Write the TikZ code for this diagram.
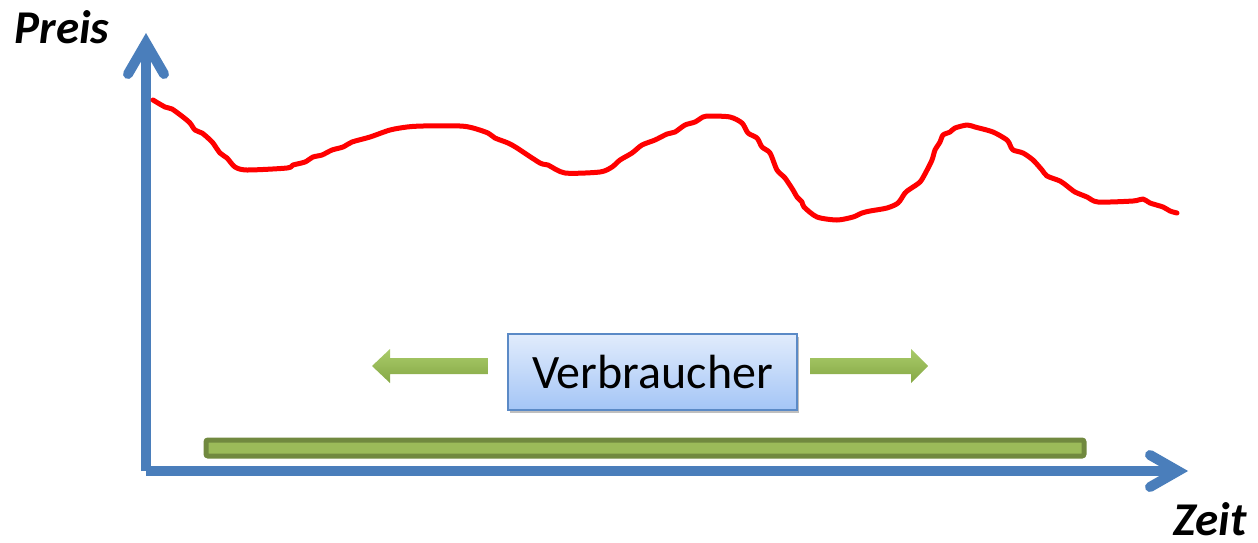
\documentclass[tikz,border=0pt]{standalone}
\usepackage{fontspec}
\setmainfont{Carlito}
\usetikzlibrary{shadows}
\definecolor{axisblue}{HTML}{4A7EBB}
\definecolor{barfill}{HTML}{9BBB59}
\definecolor{bardraw}{HTML}{71893F}
\definecolor{boxtop}{HTML}{E1ECFC}
\definecolor{boxbottom}{HTML}{A4C5F6}
\definecolor{boxdraw}{HTML}{5B8AC6}
\definecolor{arrowtop}{HTML}{A9CB6A}
\definecolor{arrowbottom}{HTML}{86A845}
\tikzset{
  axisline/.style={draw=axisblue, line width=10pt, line cap=butt},
  axishead/.style={draw=axisblue, line width=10pt, line cap=round, line join=miter},
  axislabel/.style={font=\fontsize{47}{50}\selectfont\bfseries\itshape, inner sep=0pt, anchor=base},
  pricecurve/.style={draw=red, line width=5pt, line cap=round, line join=round},
  consumerbox/.style={draw=boxdraw, line width=1.2pt, top color=boxtop, bottom color=boxbottom,
    minimum width=289pt, minimum height=76pt, inner sep=0pt,
    font=\fontsize{48}{50}\selectfont,
    drop shadow={shadow xshift=1.5pt, shadow yshift=-3pt, opacity=0.25, fill=black}},
  greenarrow/.style={top color=arrowtop, bottom color=arrowbottom, draw=none},
  greenbar/.style={fill=barfill, draw=bardraw, line width=5pt, rounded corners=2pt},
}
\begin{document}
\begin{tikzpicture}[x=1pt, y=-1pt]
\useasboundingbox (0,0) rectangle (1258,542);

% axes
\coordinate (O) at (146,471);
\coordinate (ytop) at (146,44);
\coordinate (xend) at (1177,471);
\draw[axisline] (O) -- (ytop);
\draw[axisline] (O) -- (xend);
\draw[axishead] (128,74) -- (146,43) -- (164,74);
\draw[axishead] (1150,455) -- (1178,471) -- (1150,487);

\node[axislabel] (preis) at (62,43) {Preis};
\node[axislabel] (zeit) at (1210,535) {Zeit};

% price curve
\draw[pricecurve] plot[smooth, tension=0.45] coordinates {
 (153,100) (165,107) (172,109) (183,117) (190,123) (195,130) (202,133) (208,138)
 (213,143) (220,153) (227,158) (235,167) (247,170) (287,168) (293,165) (305,162)
 (313,157) (322,155) (332,150) (343,147) (352,142) (370,137) (390,130) (407,127)
 (423,126) (460,126) (473,128) (488,133) (495,138) (508,143) (517,148) (540,163)
 (548,165) (565,173) (600,172) (612,167) (620,160) (632,153) (642,145) (655,140)
 (667,134) (675,132) (685,125) (695,122) (703,117) (710,116) (730,117) (742,123)
 (748,133) (757,138) (762,147) (770,153) (777,170) (785,178) (793,190) (797,197)
 (802,202) (804,207) (817,217) (837,220) (853,217) (862,213) (870,211) (887,208) (898,203)
 (905,193) (910,189) (920,182) (926,172) (932,160) (935,150) (940,142) (943,135)
 (950,132) (955,128) (967,125) (975,127) (993,132) (1007,140) (1010,145) (1013,150)
 (1023,153) (1033,160) (1042,170) (1047,176) (1060,181) (1067,186) (1075,192)
 (1087,197) (1098,202) (1133,201) (1143,199) (1150,203) (1163,207) (1170,211)
 (1177,213)};

% consumer box with arrows
\node[consumerbox] (verbraucher) at (652.5,372) {Verbraucher};
\path[greenarrow] (372,366) -- (390,349) -- (390,358) -- (488,358) -- (488,374)
  -- (390,374) -- (390,383) -- cycle;
\path[greenarrow] (928,366) -- (911,349) -- (911,358) -- (810,358) -- (810,374)
  -- (911,374) -- (911,383) -- cycle;

% time bar
\draw[greenbar] (206,440) rectangle (1084,456);
\end{tikzpicture}
\end{document}
